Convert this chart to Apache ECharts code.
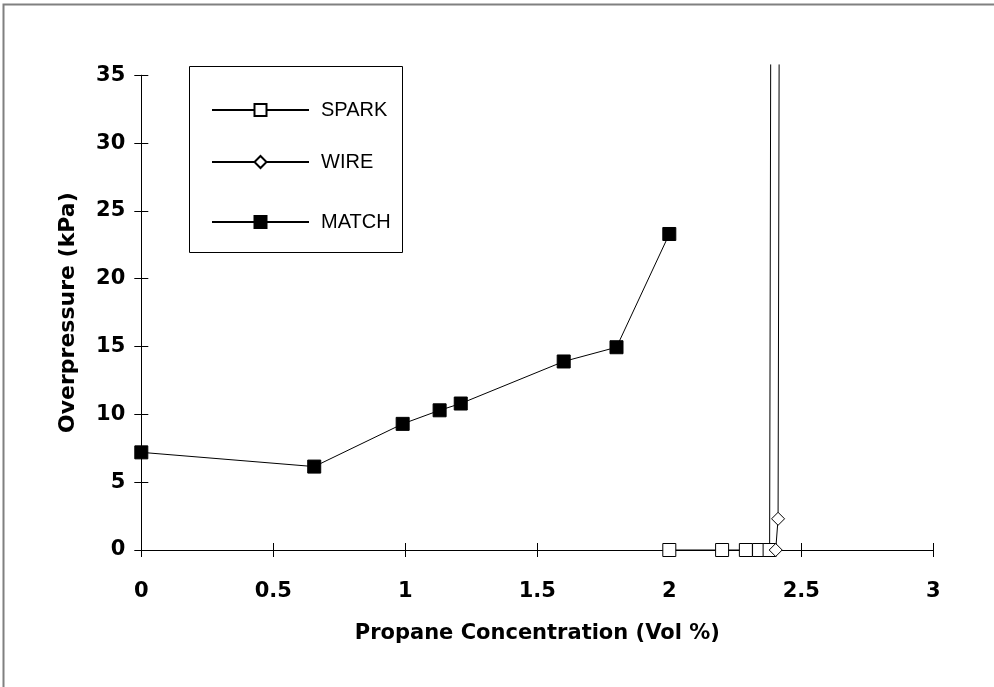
<!DOCTYPE html>
<html>
<head>
<meta charset="utf-8">
<script src="https://cdn.jsdelivr.net/npm/echarts@6/dist/echarts.min.js"></script>
<style>
  html, body { margin: 0; padding: 0; background: #ffffff; }
  #chart { width: 994px; height: 687px; }
</style>
</head>
<body>
<div id="chart"></div>
<script>
// Overpressure vs propane concentration for three ignition sources.
// Each point is [concentration (vol %), overpressure (kPa)].
const sparkData = [
  [2.0, 0], [2.2, 0], [2.29, 0], [2.34, 0], [2.38, 0], [2.384, 35.8]
];
const wireData = [
  [2.403, 0], [2.412, 2.3], [2.416, 35.8]
];
const matchData = [
  [0.0, 7.2], [0.655, 6.15], [0.99, 9.3], [1.13, 10.3], [1.21, 10.8],
  [1.6, 13.9], [1.8, 14.95], [2.0, 23.3]
];
const seriesNames = ['SPARK', 'WIRE', 'MATCH'];
const xTicks = { min: 0, max: 3, interval: 0.5 };
const yTicks = { min: 0, max: 35, interval: 5 };

const tickFont = { fontFamily: 'DejaVu Sans', fontWeight: 'bold', fontSize: 21, color: '#000' };

// Off-scale end points are drawn as bare line ends, no marker.
function toItems(arr, lastBare) {
  return arr.map((p, i) => (lastBare && i === arr.length - 1)
    ? { value: p, symbol: 'none' }
    : { value: p });
}

const chart = echarts.init(document.getElementById('chart'), null, { renderer: 'canvas' });

// Two grids with identical bounds: the second one carries axes whose
// ticks point inward, so together they give crossing tick marks.
const plotBox = { left: 141.3, right: 60.7, top: 75.3, bottom: 137 };

const legendBase = {
  orient: 'vertical',
  left: 206,
  itemWidth: 97,
  itemHeight: 15,
  textStyle: { fontFamily: 'Liberation Sans', fontSize: 20, color: '#000', padding: [0, 0, 0, 7] },
  selectedMode: false
};

const innerTick = { show: true, inside: true, length: 7, lineStyle: { color: '#000', width: 1 } };

chart.setOption({
  animation: false,
  backgroundColor: '#ffffff',
  grid: [Object.assign({}, plotBox), Object.assign({}, plotBox)],
  legend: [
    Object.assign({}, legendBase, { data: [seriesNames[0]], top: 95 }),
    Object.assign({}, legendBase, { data: [seriesNames[1]], top: 147 }),
    Object.assign({}, legendBase, { data: [seriesNames[2]], top: 207 })
  ],
  xAxis: [
    {
      type: 'value', gridIndex: 0, position: 'bottom',
      min: xTicks.min, max: xTicks.max, interval: xTicks.interval,
      axisLine: { lineStyle: { color: '#000', width: 1 } },
      axisTick: { show: true, length: 7, lineStyle: { color: '#000' } },
      axisLabel: Object.assign({ margin: 31 }, tickFont),
      splitLine: { show: false },
      name: 'Propane Concentration (Vol %)',
      nameLocation: 'middle',
      nameGap: 73,
      nameTextStyle: { fontFamily: 'DejaVu Sans', fontWeight: 'bold', fontSize: 21, color: '#000' }
    },
    {
      type: 'value', gridIndex: 1, position: 'bottom',
      min: xTicks.min, max: xTicks.max, interval: xTicks.interval,
      axisLine: { show: true, lineStyle: { color: '#000', width: 1 } },
      axisTick: innerTick,
      axisLabel: { show: false },
      splitLine: { show: false }
    }
  ],
  yAxis: [
    {
      type: 'value', gridIndex: 0, position: 'left',
      min: yTicks.min, max: yTicks.max, interval: yTicks.interval,
      axisLine: { show: true, lineStyle: { color: '#000', width: 1 } },
      axisTick: { show: true, length: 7, lineStyle: { color: '#000' } },
      axisLabel: Object.assign({ margin: 16 }, tickFont),
      splitLine: { show: false },
      name: 'Overpressure (kPa)',
      nameLocation: 'middle',
      nameGap: 62,
      nameTextStyle: { fontFamily: 'DejaVu Sans', fontWeight: 'bold', fontSize: 22, color: '#000' }
    },
    {
      type: 'value', gridIndex: 1, position: 'left',
      min: yTicks.min, max: yTicks.max, interval: yTicks.interval,
      axisLine: { show: true, lineStyle: { color: '#000', width: 1 } },
      axisTick: innerTick,
      axisLabel: { show: false },
      splitLine: { show: false }
    }
  ],
  series: [
    {
      name: seriesNames[0], type: 'line', data: toItems(sparkData, true),
      xAxisIndex: 0, yAxisIndex: 0,
      clip: false,
      symbol: 'rect', symbolSize: 13,
      lineStyle: { color: '#000', width: 1 },
      itemStyle: { color: '#ffffff', borderColor: '#000', borderWidth: 1 },
      emphasis: { disabled: true }, z: 3
    },
    {
      name: seriesNames[1], type: 'line', data: toItems(wireData, true),
      xAxisIndex: 1, yAxisIndex: 1,
      clip: false,
      symbol: 'diamond', symbolSize: 13,
      lineStyle: { color: '#000', width: 1 },
      itemStyle: { color: '#ffffff', borderColor: '#000', borderWidth: 1 },
      emphasis: { disabled: true }, z: 4
    },
    {
      name: seriesNames[2], type: 'line', data: toItems(matchData, false),
      xAxisIndex: 0, yAxisIndex: 0,
      symbol: 'rect', symbolSize: 13,
      lineStyle: { color: '#000', width: 1 },
      itemStyle: { color: '#000', borderColor: '#000', borderWidth: 1 },
      emphasis: { disabled: true }, z: 5
    }
  ],
  graphic: [
    // outer frame (top and left edges visible)
    { type: 'rect', shape: { x: 3.5, y: 4.5, width: 1100, height: 800 },
      style: { fill: 'none', stroke: '#808080', lineWidth: 2 }, silent: true },
    // legend frame
    { type: 'rect', shape: { x: 189.5, y: 66.5, width: 213, height: 186 },
      style: { fill: 'none', stroke: '#000', lineWidth: 1 }, silent: true }
  ]
});
</script>
</body>
</html>
